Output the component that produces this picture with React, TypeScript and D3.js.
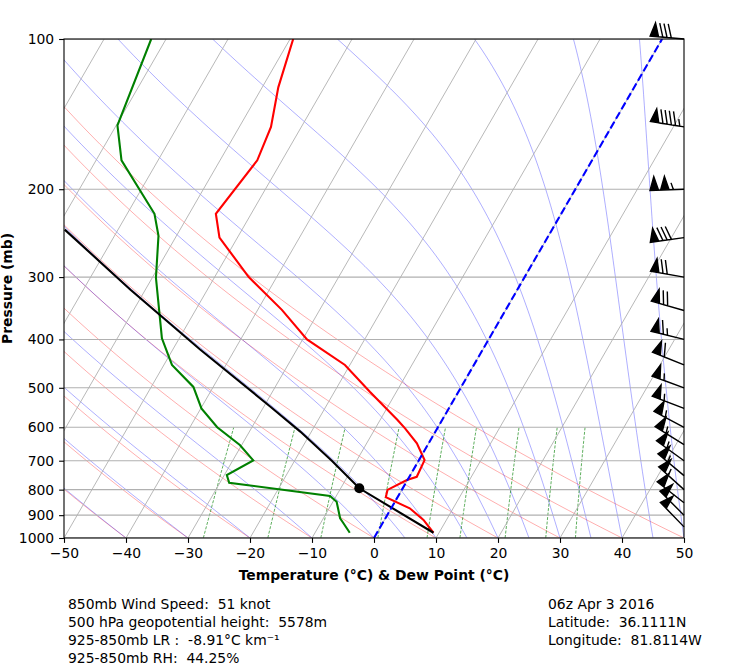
import * as d3 from "d3";
import { useEffect, useRef } from "react";

// observed temperature profile (hPa, degC)
const tempP = [976, 920, 872, 828, 801, 765, 754, 698, 646, 603, 580, 509, 450, 400, 349, 300, 250, 224, 175, 150, 125, 100];
const tempT = [9.1, 6.3, 3.0, -1.9, -2.3, -0.1, 1.2, 0.9, -1.9, -5.2, -7.2, -14.3, -20.8, -29.3, -36.1, -44.5, -52.9, -55.7, -54.0, -54.9, -57.4, -59.5];

// observed dew point profile
const dewP = [976, 932, 913, 846, 824, 775, 748, 699, 651, 600, 550, 498, 450, 398, 301, 248, 224, 175, 149, 100];
const dewT = [-4.4, -6.4, -7.3, -9.4, -11.0, -28.5, -29.6, -26.7, -30.3, -35.6, -39.9, -43.2, -48.7, -52.8, -59.4, -62.9, -65.6, -75.9, -79.8, -82.4];

// surface parcel path and its LCL
const parcelP = [976, 795, 700, 612, 545, 419, 318, 241];
const parcelT = [9.1, -7.0, -14.0, -21.8, -29.0, -45.6, -62.4, -78.6];
const lclP = 795;
const lclT = -7.0;

// wind barbs (hPa, direction deg, speed kt)
const barbP = [100, 150, 200, 250, 300, 350, 400, 450, 500, 550, 600, 650, 700, 750, 800, 850, 900, 950];
const barbDir = [275, 279, 268, 262, 280, 286, 284, 292, 290, 291, 298, 302, 306, 310, 312, 308, 315, 316];
const barbSpd = [80, 95, 105, 80, 70, 70, 65, 60, 55, 55, 55, 55, 55, 55, 55, 51, 50, 50];

const pTicks = [100, 200, 300, 400, 500, 600, 700, 800, 900, 1000];
const tTicks = [-50, -40, -30, -20, -10, 0, 10, 20, 30, 40, 50];

// background reference lines
const dryT0 = [-50, -40, -30, -20, -10, 0, 10, 20, 30, 40, 50];
const moistT0 = [-50, -40, -30, -20, -10, 0, 5, 10, 15, 20, 25, 30, 35, 40, 45, 50];
const mixRatios = [0.0004, 0.001, 0.002, 0.004, 0.007, 0.01, 0.016, 0.024, 0.032];

const infoLeft = [
  "850mb Wind Speed:  51 knot",
  "500 hPa geopotential height:  5578m",
  "925-850mb LR :  -8.91°C km⁻¹",
  "925-850mb RH:  44.25%",
];
const infoRight = ["06z Apr 3 2016", "Latitude:  36.1111N", "Longitude:  81.8114W"];

const font = "DejaVu Sans, sans-serif";

function moistPath(t0: number, ps: number[]) {
  const Rd = 287.04749, Lv = 2.50084e6, Cp = 1004.6662, eps = 0.621957;
  const f = (p: number, T: number) => {
    const es = 6.112 * Math.exp((17.67 * (T - 273.15)) / (T - 29.65));
    const rs = (eps * es) / (p - es);
    return (Rd * T + Lv * rs) / (Cp + (Lv * Lv * rs * eps) / (Rd * T * T)) / p;
  };
  let T = t0 + 273.15;
  let p = ps[0];
  const out: [number, number][] = [[t0, p]];
  for (let i = 1; i < ps.length; i++) {
    const n = 4;
    const h = (ps[i] - p) / n;
    for (let k = 0; k < n; k++) {
      const k1 = f(p, T);
      const k2 = f(p + h / 2, T + (h / 2) * k1);
      const k3 = f(p + h / 2, T + (h / 2) * k2);
      const k4 = f(p + h, T + h * k3);
      T += (h / 6) * (k1 + 2 * k2 + 2 * k3 + k4);
      p += h;
    }
    out.push([T - 273.15, ps[i]]);
  }
  return out;
}

// matplotlib-style barb outline, in pixels relative to the staff base
function barbPolygon(spd: number, dir: number) {
  const rad = (dir * Math.PI) / 180;
  const u = -spd * Math.sin(rad);
  const v = -spd * Math.cos(rad);
  const L = 7, spacing = L * 0.125, fh = L * 0.4, fw = L * 0.25;
  let mag = 5 * Math.round(spd / 5);
  const nflags = Math.floor(mag / 50);
  mag -= nflags * 50;
  const nbarbs = Math.floor(mag / 10);
  mag -= nbarbs * 10;
  const half = mag >= 5;
  const verts: [number, number][] = [[0, 0]];
  let off = L;
  for (let i = 0; i < nflags; i++) {
    if (off !== L) off += spacing / 2;
    verts.push([0, off], [fh, off - fw / 2], [0, off - fw]);
    off -= fw + spacing;
  }
  for (let i = 0; i < nbarbs; i++) {
    verts.push([0, off], [fh, off + fw / 2], [0, off]);
    off -= spacing;
  }
  if (half) {
    if (off === L) {
      verts.push([0, off]);
      off -= 1.5 * spacing;
    }
    verts.push([0, off], [fh / 2, off + fw / 4], [0, off]);
  }
  const a = Math.atan2(v, u) + Math.PI / 2;
  const s = (3.5 * 100) / 72;
  return verts.map(([x, y]) => [
    (x * Math.cos(a) - y * Math.sin(a)) * s,
    -(x * Math.sin(a) + y * Math.cos(a)) * s,
  ]);
}

export default function App() {
  const svgRef = useRef<SVGSVGElement>(null);

  useEffect(() => {
    if (!svgRef.current) return;
    const svg = d3.select(svgRef.current);
    svg.selectAll("*").remove();

    const left = 64, right = 684, top = 39, bottom = 538;
    const xScale = d3.scaleLinear().domain([-50, 50]).range([left, right]);
    const yScale = d3.scaleLog().domain([1000, 100]).range([bottom, top]);
    const skew = Math.tan(Math.PI / 6);
    const sx = (t: number, p: number) => xScale(t) + (bottom - yScale(p)) * skew;
    const line = d3
      .line<[number, number]>()
      .x((d) => sx(d[0], d[1]))
      .y((d) => yScale(d[1]));

    const pGrid = d3.range(0, 91).map((i) => 1000 * Math.pow(10, -i / 90));

    svg
      .append("defs")
      .append("clipPath")
      .attr("id", "plotclip")
      .append("rect")
      .attr("x", left)
      .attr("y", top)
      .attr("width", right - left)
      .attr("height", bottom - top);

    const plot = svg.append("g").attr("clip-path", "url(#plotclip)");

    // dry adiabats
    plot
      .append("g")
      .selectAll("path")
      .data(dryT0)
      .join("path")
      .attr("d", (t0) =>
        line(pGrid.map((p) => [(t0 + 273.15) * Math.pow(p / 1000, 0.2857) - 273.15, p]))
      )
      .attr("fill", "none")
      .attr("stroke", "#ff0000")
      .attr("stroke-opacity", 0.4)
      .attr("stroke-width", 0.8);

    // moist adiabats
    plot
      .append("g")
      .selectAll("path")
      .data(moistT0)
      .join("path")
      .attr("d", (t0) => line(moistPath(t0, pGrid)))
      .attr("fill", "none")
      .attr("stroke", "#0000ff")
      .attr("stroke-opacity", 0.4)
      .attr("stroke-width", 0.8);

    // mixing ratio lines
    const mixP = d3.range(0, 21).map((i) => 1000 - i * 20);
    plot
      .append("g")
      .selectAll("path")
      .data(mixRatios)
      .join("path")
      .attr("d", (w) =>
        line(
          mixP.map((p) => {
            const e = (p * w) / (0.621957 + w);
            const l = Math.log(e / 6.112);
            return [(243.5 * l) / (17.67 - l), p];
          })
        )
      )
      .attr("fill", "none")
      .attr("stroke", "#008000")
      .attr("stroke-opacity", 0.8)
      .attr("stroke-width", 0.8)
      .attr("stroke-dasharray", "3,1.5");

    // skewed isotherm grid
    const isoT = d3.range(-160, 51, 10);
    plot
      .append("g")
      .selectAll("line")
      .data(isoT)
      .join("line")
      .attr("x1", (t) => sx(t, 1000))
      .attr("y1", bottom)
      .attr("x2", (t) => sx(t, 100))
      .attr("y2", top)
      .attr("stroke", "#b0b0b0")
      .attr("stroke-width", 0.9);

    // isobar grid
    plot
      .append("g")
      .selectAll("line")
      .data(pTicks)
      .join("line")
      .attr("x1", left)
      .attr("x2", right)
      .attr("y1", (p) => yScale(p))
      .attr("y2", (p) => yScale(p))
      .attr("stroke", "#b0b0b0")
      .attr("stroke-width", 1.1);

    const series = (P: number[], T: number[]) =>
      P.map((p, i) => [T[i], p] as [number, number]);

    plot
      .append("path")
      .attr("d", line(series(tempP, tempT)))
      .attr("fill", "none")
      .attr("stroke", "#ff0000")
      .attr("stroke-width", 2.1);

    plot
      .append("path")
      .attr("d", line(series(dewP, dewT)))
      .attr("fill", "none")
      .attr("stroke", "#008000")
      .attr("stroke-width", 2.1);

    plot
      .append("path")
      .attr("d", line(series(parcelP, parcelT)))
      .attr("fill", "none")
      .attr("stroke", "#000000")
      .attr("stroke-width", 2.1);

    plot
      .append("circle")
      .attr("cx", sx(lclT, lclP))
      .attr("cy", yScale(lclP))
      .attr("r", 5)
      .attr("fill", "#000000");

    // 0 degC isotherm
    plot
      .append("line")
      .attr("x1", sx(0, 1000))
      .attr("y1", bottom)
      .attr("x2", sx(0, 100))
      .attr("y2", top)
      .attr("stroke", "#0000ff")
      .attr("stroke-width", 2.1)
      .attr("stroke-dasharray", "7.7,3.3");

    // frame
    svg
      .append("rect")
      .attr("x", left)
      .attr("y", top)
      .attr("width", right - left)
      .attr("height", bottom - top)
      .attr("fill", "none")
      .attr("stroke", "#000000")
      .attr("stroke-width", 1.1);

    // axes
    const yAxis = d3
      .axisLeft(yScale)
      .tickValues(pTicks)
      .tickFormat(d3.format("d"))
      .tickSize(4.9)
      .tickPadding(4.9);
    svg
      .append("g")
      .attr("transform", `translate(${left},0)`)
      .call(yAxis)
      .call((g) => g.select(".domain").remove())
      .call((g) => g.selectAll("line").attr("stroke-width", 1.1))
      .call((g) =>
        g.selectAll("text").attr("font-size", 13.9).attr("font-family", font).attr("fill", "#000")
      );

    const xAxis = d3
      .axisBottom(xScale)
      .tickValues(tTicks)
      .tickFormat(d3.format("d"))
      .tickSize(4.9)
      .tickPadding(4.9);
    svg
      .append("g")
      .attr("transform", `translate(0,${bottom})`)
      .call(xAxis)
      .call((g) => g.select(".domain").remove())
      .call((g) => g.selectAll("line").attr("stroke-width", 1.1))
      .call((g) =>
        g.selectAll("text").attr("font-size", 13.9).attr("font-family", font).attr("fill", "#000")
      );

    svg
      .append("text")
      .attr("transform", `translate(11.5,${(top + bottom) / 2}) rotate(-90)`)
      .attr("text-anchor", "middle")
      .attr("font-family", font)
      .attr("font-size", 13.9)
      .attr("font-weight", "bold")
      .text("Pressure (mb)");

    svg
      .append("text")
      .attr("x", (left + right) / 2)
      .attr("y", 580)
      .attr("text-anchor", "middle")
      .attr("font-family", font)
      .attr("font-size", 13.9)
      .attr("font-weight", "bold")
      .text("Temperature (°C) & Dew Point (°C)");

    // wind barbs on the right edge
    svg
      .append("g")
      .selectAll("path")
      .data(barbP)
      .join("path")
      .attr("d", (p, i) => {
        const pts = barbPolygon(barbSpd[i], barbDir[i]);
        const bx = right, by = yScale(p);
        return "M" + pts.map(([x, y]) => `${bx + x},${by + y}`).join("L") + "Z";
      })
      .attr("fill", "#000000")
      .attr("stroke", "#000000")
      .attr("stroke-width", 1.4)
      .attr("stroke-linejoin", "miter");

    // info text
    svg
      .append("g")
      .selectAll("text")
      .data(infoLeft)
      .join("text")
      .attr("x", 68)
      .attr("y", (d, i) => 609 + i * 18)
      .attr("font-family", font)
      .attr("font-size", 13.9)
      .style("white-space", "pre")
      .text((d) => d);

    svg
      .append("g")
      .selectAll("text")
      .data(infoRight)
      .join("text")
      .attr("x", 548)
      .attr("y", (d, i) => 609 + i * 18)
      .attr("font-family", font)
      .attr("font-size", 13.9)
      .style("white-space", "pre")
      .text((d) => d);

    return () => {
      d3.select(svgRef.current).selectAll("*").remove();
    };
  }, []);

  return (
    <svg
      ref={svgRef}
      width={746}
      height={665}
      style={{ position: "absolute", left: 0, top: 0, background: "#fff" }}
    />
  );
}
